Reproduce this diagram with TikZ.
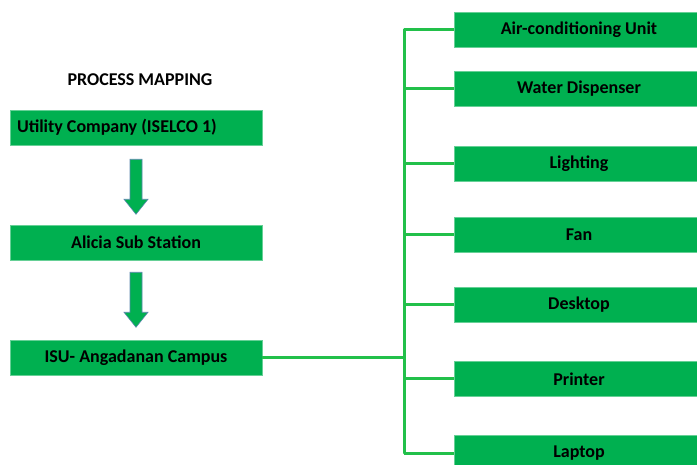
\documentclass[tikz,border=0pt]{standalone}
\usepackage{fontspec}
\setmainfont{Carlito}
\usepackage{tikz}
\usetikzlibrary{calc,positioning}
\definecolor{boxgreen}{HTML}{00B050}
\definecolor{wiregreen}{HTML}{22C04A}
\definecolor{arrowedge}{HTML}{5A86AD}
\tikzstyle{blk}=[fill=boxgreen, draw=boxgreen!60!white, line width=0.6pt, minimum height=35pt, inner xsep=7pt, font=\fontsize{18}{20}\selectfont\bfseries]
\tikzstyle{src}=[blk, minimum width=252pt]
\tikzstyle{load}=[blk, minimum width=250pt]
\tikzstyle{wire}=[wiregreen, line width=3pt]
\tikzstyle{blockarrow}=[fill=boxgreen, draw=arrowedge, line width=0.6pt, line join=miter]

\begin{document}
\begin{tikzpicture}[x=1pt,y=-1pt,node distance=115pt]
      \useasboundingbox (0,0) rectangle (697,465);
      \clip (0,0) rectangle (697,465);
      % left column
      \node [font=\fontsize{18}{20}\selectfont\bfseries] (title) at (140,80) {PROCESS MAPPING};
      \node [src] (util) at (136,127.5) {\makebox[238pt][l]{Utility Company (ISELCO 1)}};
      \node [src] (alicia) [below of=util] {Alicia Sub Station};
      \node [src] (isu) [below of=alicia] {ISU- Angadanan Campus};
      \draw[blockarrow] ($(util.south)+(-6,14)$) -- ++(12,0) -- ++(0,40) -- ++(6,0)
            -- ++(-12,15) -- ++(-12,-15) -- ++(6,0) -- cycle;
      \draw[blockarrow] ($(alicia.south)+(-6,12)$) -- ++(12,0) -- ++(0,40) -- ++(6,0)
            -- ++(-12,15) -- ++(-12,-15) -- ++(6,0) -- cycle;
      % loads
      \node [load] (ac) at (579,29.5) {Air-conditioning Unit};
      \node [load] (water) at (579,89) {Water Dispenser};
      \node [load] (light) at (579,163.5) {Lighting};
      \node [load] (fan) at (579,235) {Fan};
      \node [load] (desk) at (579,305) {Desktop};
      \node [load] (print) at (579,379) {Printer};
      \node [load] (lap) at (579,453) {Laptop};
      \coordinate (bus) at (404,0);
      \draw[wire] (isu.east) -- (isu.east -| bus);
      \draw[wire, line cap=round] (ac.west -| bus) -- (lap.west -| bus);
      \draw[wire] (ac.west -| bus) -- (ac.west);
      \draw[wire] (water.west -| bus) -- (water.west);
      \draw[wire] (light.west -| bus) -- (light.west);
      \draw[wire] (fan.west -| bus) -- (fan.west);
      \draw[wire] (desk.west -| bus) -- (desk.west);
      \draw[wire] (print.west -| bus) -- (print.west);
      \draw[wire] (lap.west -| bus) -- (lap.west);
\end{tikzpicture}
\end{document}
